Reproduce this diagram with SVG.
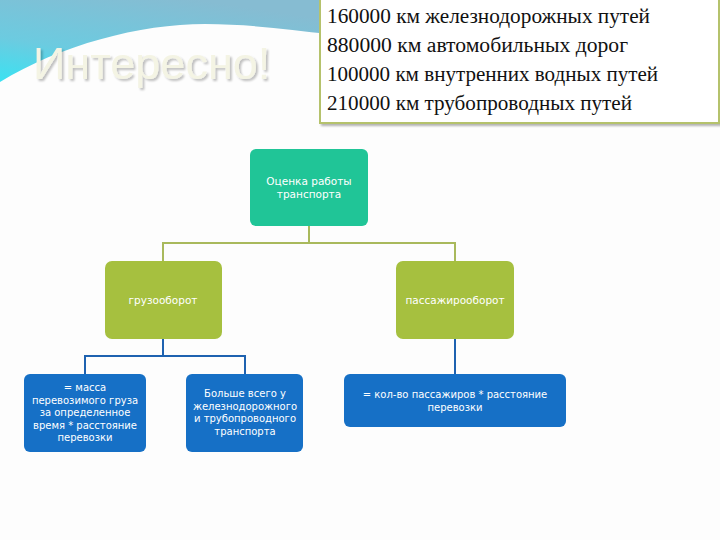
<svg xmlns="http://www.w3.org/2000/svg" width="720" height="540" viewBox="0 0 720 540">
<defs>
<linearGradient id="sky" x1="0.6" y1="0" x2="0" y2="1">
<stop offset="0" stop-color="#86bcd2"/>
<stop offset="0.6" stop-color="#6ccbe0"/>
<stop offset="1" stop-color="#3ae2f2"/>
</linearGradient>
<filter id="sh" x="-5%" y="-5%" width="115%" height="120%">
<feGaussianBlur in="SourceAlpha" stdDeviation="1.2"/>
<feOffset dx="1.5" dy="1.5"/>
<feComponentTransfer><feFuncA type="linear" slope="0.3"/></feComponentTransfer>
<feMerge><feMergeNode/><feMergeNode in="SourceGraphic"/></feMerge>
</filter>
<filter id="tsh" x="-5%" y="-20%" width="115%" height="150%">
<feGaussianBlur in="SourceAlpha" stdDeviation="1"/>
<feOffset dx="2" dy="2"/>
<feComponentTransfer><feFuncA type="linear" slope="0.25"/></feComponentTransfer>
<feMerge><feMergeNode/><feMergeNode in="SourceGraphic"/></feMerge>
</filter>
</defs>
<style>
.title{font-family:"Liberation Sans",Arial,sans-serif;font-size:45px;fill:#f4f4e4}
.fact{font-family:"Liberation Serif","Times New Roman",serif;font-size:20px;fill:#111}
.lbl{font-family:"DejaVu Sans","Noto Sans",sans-serif;fill:#ffffff;text-anchor:middle}
.g{font-size:10.5px}
.b{font-size:10px}
.olive{stroke:#a9b95c;stroke-width:2;fill:none}
.blue{stroke:#1e62b0;stroke-width:2;fill:none}
.teal{fill:#20c597}
.lime{fill:#a6c03f}
.bnode{fill:#1670c6}
</style>
<rect width="720" height="540" fill="#fdfdfd"/>
<path d="M0,0 L330,0 L330,34 C290,30 250,24 205,24 C140,24 60,45 0,82 Z" fill="url(#sky)"/>
<g id="title">
<text x="33" y="79" class="title" filter="url(#tsh)">Интересно!</text>
</g>
<g id="facts">
<rect x="320" y="-2" width="399" height="125" fill="#ffffff" stroke="#b5c26c" stroke-width="2" filter="url(#sh)"/>
<text class="fact" x="327" y="23" textLength="323" lengthAdjust="spacingAndGlyphs">160000 км железнодорожных путей</text>
<text class="fact" x="327" y="52" textLength="301" lengthAdjust="spacingAndGlyphs">880000 км автомобильных дорог</text>
<text class="fact" x="327" y="81" textLength="331" lengthAdjust="spacingAndGlyphs">100000 км внутренних водных путей</text>
<text class="fact" x="327" y="110" textLength="305" lengthAdjust="spacingAndGlyphs">210000 км трубопроводных путей</text>
</g>
<g id="connectors">
<path class="olive" d="M309,226 V243 M163,243 H455 M163,242 V262 M455,242 V262"/>
<path class="blue" d="M163,339 V356 M84,356 H246 M85,355 V375 M245,355 V375 M455,339 V375"/>
</g>
<g id="node-root">
<rect class="teal" x="250" y="149" width="118" height="77" rx="6"/>
<text class="lbl g" x="309" y="185">Оценка работы</text>
<text class="lbl g" x="309" y="198">транспорта</text>
</g>
<g id="node-gruz">
<rect class="lime" x="105" y="261" width="117" height="78" rx="7"/>
<text class="lbl g" x="163" y="304">грузооборот</text>
</g>
<g id="node-pass">
<rect class="lime" x="396" y="261" width="118" height="78" rx="7"/>
<text class="lbl g" x="455" y="304">пассажирооборот</text>
</g>
<g id="node-gruz-def">
<rect class="bnode" x="24" y="374" width="122" height="78" rx="6"/>
<text class="lbl b" x="85" y="391">= масса</text>
<text class="lbl b" x="85" y="404">перевозимого груза</text>
<text class="lbl b" x="85" y="416">за определенное</text>
<text class="lbl b" x="85" y="429">время * расстояние</text>
<text class="lbl b" x="85" y="441">перевозки</text>
</g>
<g id="node-gruz-note">
<rect class="bnode" x="186" y="374" width="117" height="78" rx="6"/>
<text class="lbl b" x="245" y="397">Больше всего у</text>
<text class="lbl b" x="245" y="410">железнодорожного</text>
<text class="lbl b" x="245" y="422">и трубопроводного</text>
<text class="lbl b" x="245" y="435">транспорта</text>
</g>
<g id="node-pass-def">
<rect class="bnode" x="344" y="374" width="222" height="53" rx="6"/>
<text class="lbl b" x="455" y="398">= кол-во пассажиров * расстояние</text>
<text class="lbl b" x="455" y="411">перевозки</text>
</g>
</svg>
